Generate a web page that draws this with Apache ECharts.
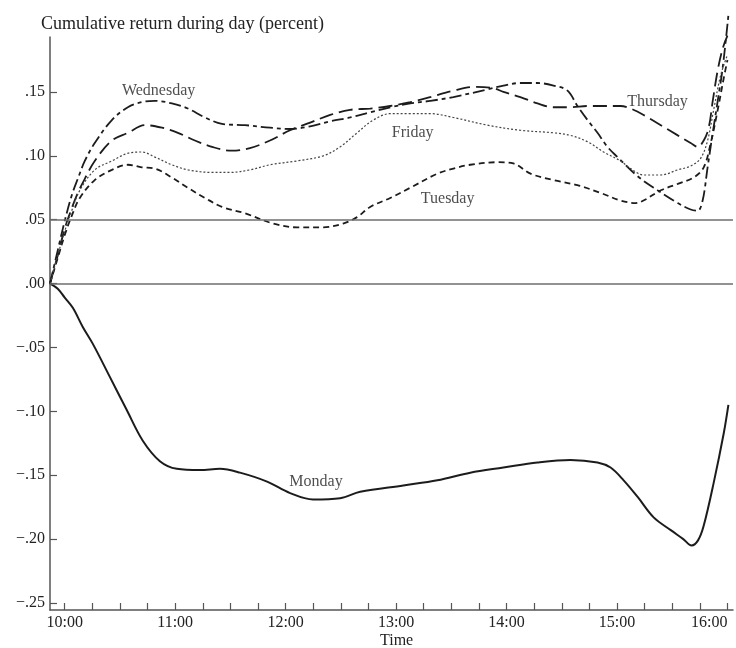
<!DOCTYPE html>
<html>
<head>
<meta charset="utf-8">
<script src="https://cdn.jsdelivr.net/npm/echarts@6/dist/echarts.min.js"></script>
<style>
  html, body { margin: 0; padding: 0; background: #ffffff; }
  #chart { width: 736px; height: 648px; }
</style>
</head>
<body>
<div id="chart"></div>
<script>
// Cumulative intraday return by weekday; time is minutes after 10:00.
const mondayTime = [-8, -3.8, 0, 4.4, 9.8, 15.2, 24.5, 33.7, 42.4, 51.7, 60.9, 73.4, 84.3, 95.2, 109.9, 122.4, 134.9, 149.6, 160.5, 183.9, 202.4, 220.3, 238.3, 256.8, 274.7, 289.4, 296.5, 303.6, 311.2, 319.9, 329.2, 336, 340.5, 344, 347, 352.5, 358, 360.5];
const mondayValue = [0, -0.004, -0.011, -0.019, -0.034, -0.047, -0.073, -0.099, -0.123, -0.139, -0.145, -0.146, -0.145, -0.148, -0.155, -0.164, -0.169, -0.168, -0.163, -0.158, -0.154, -0.148, -0.144, -0.140, -0.138, -0.140, -0.144, -0.154, -0.167, -0.183, -0.193, -0.200, -0.205, -0.201, -0.190, -0.156, -0.117, -0.095];

const tuesdayTime = [-8, -3.8, 0, 3.8, 8.2, 16.3, 25.6, 34.3, 41.9, 49, 58.2, 66.9, 76.2, 85.4, 97.9, 113.2, 126.2, 140.4, 151.2, 158.8, 165.9, 176.8, 187.7, 202.4, 211.1, 220.3, 235, 243.7, 253, 265.5, 278.5, 291, 301.9, 310.1, 314.4, 323.8, 333, 341.6, 347.1, 350.9, 354.7, 358, 360];
const tuesdayValue = [0, 0.020, 0.038, 0.053, 0.067, 0.081, 0.089, 0.093, 0.091, 0.090, 0.083, 0.075, 0.067, 0.060, 0.055, 0.047, 0.044, 0.044, 0.047, 0.052, 0.060, 0.067, 0.075, 0.086, 0.090, 0.093, 0.095, 0.094, 0.086, 0.081, 0.077, 0.071, 0.065, 0.063, 0.065, 0.073, 0.078, 0.083, 0.091, 0.110, 0.136, 0.161, 0.175];

const wednesdayTime = [-8, -3.8, 0, 3.8, 7.1, 10.9, 16.3, 25.6, 34.3, 41.9, 49, 58.2, 66.9, 76.2, 85.4, 97.9, 111.5, 122.4, 133.3, 144.2, 155, 165.9, 176.8, 187.7, 198.6, 211.1, 229.6, 238.3, 247.5, 256.8, 265.5, 273.1, 278.5, 284, 289.4, 294.8, 300.3, 311.2, 322, 333, 340, 343.8, 346.5, 349.2, 352, 354.7, 357.4, 360.5];
const wednesdayValue = [0, 0.026, 0.049, 0.069, 0.082, 0.096, 0.110, 0.128, 0.138, 0.142, 0.143, 0.141, 0.137, 0.130, 0.125, 0.124, 0.122, 0.121, 0.123, 0.127, 0.130, 0.134, 0.138, 0.141, 0.143, 0.146, 0.152, 0.155, 0.157, 0.157, 0.155, 0.151, 0.139, 0.128, 0.118, 0.107, 0.099, 0.084, 0.073, 0.063, 0.058, 0.057, 0.065, 0.091, 0.118, 0.143, 0.169, 0.210];

const thursdayTime = [-8, -3.8, 0, 3.8, 7.1, 10.9, 16.3, 25.6, 34.3, 43.5, 52.8, 61.5, 70.7, 80, 90.8, 100.6, 111.5, 122.4, 133.3, 144.2, 155, 165.9, 176.8, 187.7, 198.6, 211.1, 223, 232.8, 238.3, 247.5, 256.8, 265.5, 274.7, 284, 292.7, 301.9, 307.4, 314.4, 323.8, 333, 340, 343.8, 347.1, 349.8, 352, 354.7, 357.4, 360];
const thursdayValue = [0, 0.022, 0.043, 0.059, 0.071, 0.082, 0.096, 0.112, 0.118, 0.124, 0.122, 0.118, 0.112, 0.107, 0.104, 0.106, 0.112, 0.120, 0.126, 0.132, 0.136, 0.137, 0.139, 0.142, 0.146, 0.151, 0.154, 0.153, 0.150, 0.146, 0.141, 0.138, 0.138, 0.139, 0.139, 0.139, 0.137, 0.132, 0.124, 0.116, 0.110, 0.107, 0.112, 0.122, 0.143, 0.167, 0.184, 0.194];

const fridayTime = [-8, -3.8, 0, 3.8, 8.2, 16.3, 25.6, 34.3, 41.9, 49, 58.2, 66.9, 80, 89.8, 100.6, 111.5, 126.2, 140.4, 149.6, 158.8, 167.6, 176.8, 187.7, 198.6, 211.1, 229.6, 247.5, 265.5, 274.7, 284, 292.7, 301.9, 307.4, 314.4, 323.8, 333, 340, 345.4, 349.2, 352.5, 356.3, 360];
const fridayValue = [0, 0.022, 0.041, 0.057, 0.073, 0.089, 0.096, 0.102, 0.103, 0.099, 0.093, 0.089, 0.087, 0.087, 0.089, 0.093, 0.096, 0.100, 0.107, 0.118, 0.128, 0.133, 0.133, 0.133, 0.130, 0.124, 0.120, 0.118, 0.116, 0.111, 0.103, 0.096, 0.090, 0.085, 0.085, 0.089, 0.092, 0.098, 0.112, 0.136, 0.163, 0.179];

// Reference levels drawn across the plot
const referenceLevels = [0, 0.05];

// Axis ticks and labels
const timeTicks = [0, 15, 30, 45, 60, 75, 90, 105, 120, 135, 150, 165, 180, 195, 210, 225, 240, 255, 270, 285, 300, 315, 330, 345, 360];
const timeLabels = [0, 60, 120, 180, 240, 300, 360];
const returnTicks = [-0.25, -0.20, -0.15, -0.10, -0.05, 0, 0.05, 0.10, 0.15];

// Day names placed beside their curves
const dayNames = ['Wednesday', 'Thursday', 'Friday', 'Tuesday', 'Monday'];
const dayNameTime = [51, 322, 189, 208, 136.5];
const dayNameValue = [0.151, 0.142, 0.118, 0.066, -0.155];

const FONT = '"Liberation Serif", "DejaVu Serif", serif';
const INK = '#1c1c1c';
const TEXT = '#222222';

function pairs(t, v) { return t.map((x, i) => [x, v[i]]); }

function formatReturn(v) {
  const n = Math.round(Math.abs(v) * 100);
  const s = '.' + (n < 10 ? '0' + n : String(n));
  return v < -1e-9 ? '\u2212' + s : s;
}
function formatClock(m) {
  return (10 + Math.round(m / 60)) + ':00';
}

function dayLine(name, t, v, dash, width, color) {
  return {
    name: name,
    type: 'line',
    data: pairs(t, v),
    showSymbol: false,
    smooth: 0.35,
    clip: false,
    silent: true,
    lineStyle: { color: color || INK, width: width, type: dash }
  };
}

const chart = echarts.init(document.getElementById('chart'), null, { renderer: 'canvas' });

const series = [
  {
    name: 'levels',
    type: 'line',
    data: [],
    silent: true,
    markLine: {
      silent: true,
      symbol: ['none', 'none'],
      label: { show: false },
      lineStyle: { color: '#6e6e6e', width: 1.5, type: 'solid' },
      data: referenceLevels.map(y => ({ yAxis: y }))
    }
  },
  dayLine('Monday', mondayTime, mondayValue, 'solid', 2),
  dayLine('Tuesday', tuesdayTime, tuesdayValue, [6, 4], 1.8),
  dayLine('Wednesday', wednesdayTime, wednesdayValue, [12, 4, 4, 4], 1.8),
  dayLine('Thursday', thursdayTime, thursdayValue, [14, 6], 1.8),
  dayLine('Friday', fridayTime, fridayValue, [2, 2], 1.2, '#444'),
  {
    name: 'day names',
    type: 'scatter',
    silent: true,
    clip: false,
    symbolSize: 1,
    itemStyle: { color: 'transparent' },
    data: dayNames.map((n, i) => ({ name: n, value: [dayNameTime[i], dayNameValue[i]] })),
    label: {
      show: true,
      position: 'inside',
      formatter: p => p.name,
      fontFamily: FONT,
      fontSize: 16,
      color: TEXT
    }
  }
];

chart.setOption({
  animation: false,
  backgroundColor: '#ffffff',
  title: {
    text: 'Cumulative return during day (percent)',
    left: 36,
    top: 10,
    textStyle: { fontFamily: FONT, fontSize: 18, fontWeight: 'normal', color: TEXT }
  },
  grid: { left: 50, right: 3, top: 37, bottom: 38, outerBoundsMode: 'none', containLabel: false },
  xAxis: {
    type: 'value',
    min: -8,
    max: 363,
    splitLine: { show: false },
    axisLine: { show: true, onZero: false, lineStyle: { color: '#555', width: 1.5 } },
    axisTick: { show: true, inside: true, length: 7, customValues: timeTicks, lineStyle: { color: '#555', width: 1.2 } },
    axisLabel: {
      customValues: timeLabels,
      formatter: formatClock,
      margin: 5,
      hideOverlap: false,
      alignMaxLabel: 'right',
      fontFamily: FONT,
      fontSize: 16,
      color: TEXT
    }
  },
  yAxis: {
    type: 'value',
    min: -0.2555,
    max: 0.193,
    splitLine: { show: false },
    axisLine: { show: true, onZero: false, lineStyle: { color: '#555', width: 1.5 } },
    axisTick: { show: true, inside: true, length: 7, customValues: returnTicks, lineStyle: { color: '#555', width: 1.2 } },
    axisLabel: {
      customValues: returnTicks,
      formatter: formatReturn,
      margin: 5,
      fontFamily: FONT,
      fontSize: 16,
      color: TEXT
    }
  },
  graphic: [
    {
      type: 'text',
      left: 380,
      top: 633,
      style: { text: 'Time', fontFamily: FONT, fontSize: 16, fill: TEXT }
    }
  ],
  series: series
});
</script>
</body>
</html>
